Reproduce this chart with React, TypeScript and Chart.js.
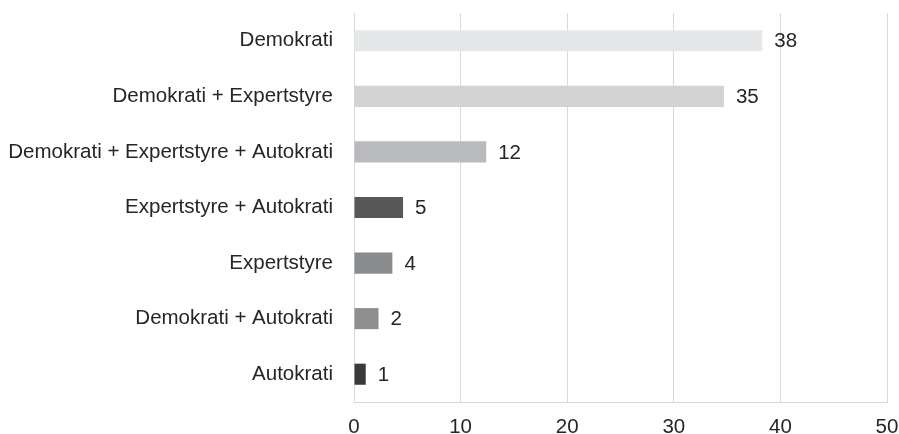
import React, { useEffect, useRef } from "react";
import { Chart, registerables } from "chart.js";

Chart.register(...registerables);

const categories = [
  "Demokrati",
  "Demokrati + Expertstyre",
  "Demokrati + Expertstyre + Autokrati",
  "Expertstyre + Autokrati",
  "Expertstyre",
  "Demokrati + Autokrati",
  "Autokrati",
];
const values = [38.3, 34.7, 12.4, 4.6, 3.6, 2.3, 1.1];
const valueLabels = ["38", "35", "12", "5", "4", "2", "1"];
const barColors = ["#e6e7e8", "#d2d3d5", "#b9babd", "#58585a", "#8a8b8d", "#8e8f91", "#3a3a3c"];
const xTicks = [0, 10, 20, 30, 40, 50];

const FONT = "'Liberation Sans', Arial, sans-serif";

const valueLabelPlugin = {
  id: "valueLabels",
  afterDatasetsDraw(chart: any) {
    const ctx = chart.ctx;
    const meta = chart.getDatasetMeta(0);
    ctx.save();
    ctx.font = `20.5px ${FONT}`;
    ctx.fillStyle = "#262626";
    ctx.textAlign = "left";
    ctx.textBaseline = "middle";
    meta.data.forEach((bar: any, i: number) => {
      ctx.fillText(valueLabels[i], bar.x + 12, bar.y + 1);
    });
    ctx.restore();
  },
};

export default function App() {
  const ref = useRef<HTMLCanvasElement>(null);
  useEffect(() => {
    document.body.style.margin = "0";
    const chart = new Chart(ref.current!, {
      type: "bar",
      data: {
        labels: categories,
        datasets: [
          {
            data: values,
            backgroundColor: barColors,
            borderWidth: 0,
            barPercentage: 0.38,
            categoryPercentage: 1,
          },
        ],
      },
      options: {
        indexAxis: "y",
        animation: false,
        responsive: false,
        layout: { padding: { left: 0, right: 12, top: 13, bottom: 0 } },
        plugins: { legend: { display: false }, tooltip: { enabled: false } },
        scales: {
          x: {
            min: 0,
            max: 50,
            afterBuildTicks(scale: any) {
              scale.ticks = xTicks.map((v) => ({ value: v }));
            },
            afterFit(scale: any) {
              scale.height = 32;
              scale.paddingLeft = 0;
              scale.paddingRight = 0;
              scale.paddingTop = 0;
              scale.paddingBottom = 0;
            },
            grid: { color: "#d9d9d9", lineWidth: 1, drawTicks: false },
            border: { display: true, color: "#d9d9d9" },
            ticks: {
              padding: 13,
              color: "#262626",
              font: { family: FONT, size: 20.5 },
            },
          },
          y: {
            grid: { display: false, drawTicks: false },
            border: { display: false },
            afterFit(scale: any) {
              scale.width = 354;
              scale.paddingLeft = 0;
              scale.paddingRight = 0;
              scale.paddingTop = 0;
              scale.paddingBottom = 0;
            },
            ticks: {
              padding: 21,
              color: "#262626",
              font: { family: FONT, size: 20.5 },
            },
          },
        },
      },
      plugins: [valueLabelPlugin],
    });
    return () => chart.destroy();
  }, []);
  return (
    <div style={{ width: 899, height: 434 }}>
      <canvas ref={ref} width={899} height={434} style={{ display: "block" }} />
    </div>
  );
}
